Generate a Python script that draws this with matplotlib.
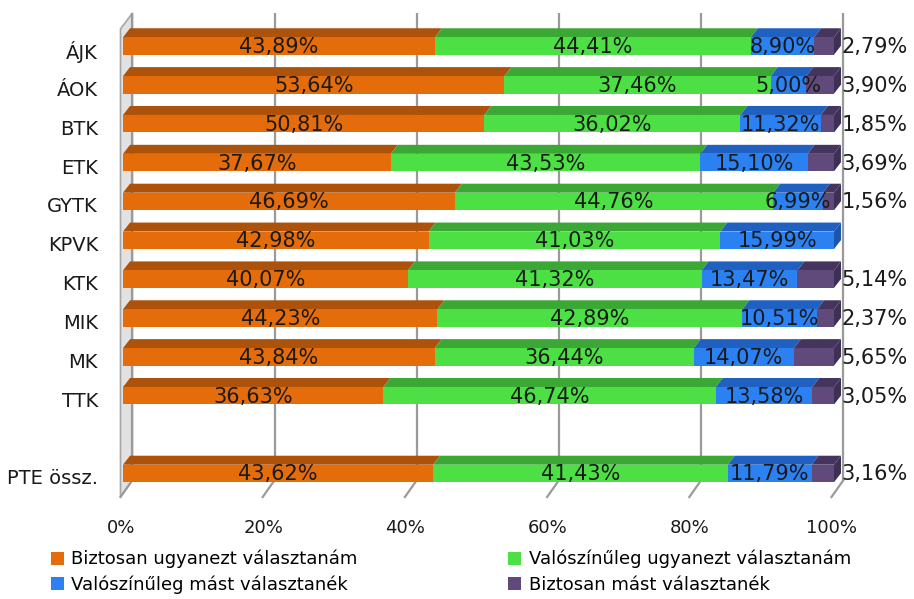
import matplotlib
matplotlib.use("Agg")
import matplotlib.pyplot as plt
from matplotlib.patches import Polygon, Patch

plt.rcParams['font.family'] = ['DejaVu Sans']

# ---------------- data ----------------
categories = ['ÁJK', 'ÁOK', 'BTK', 'ETK', 'GYTK', 'KPVK', 'KTK', 'MIK', 'MK', 'TTK', 'PTE össz.']
row_pos = [0, 1, 2, 3, 4, 5, 6, 7, 8, 9, 11]
biztosan_ugyanezt = [43.89, 53.64, 50.81, 37.67, 46.69, 42.98, 40.07, 44.23, 43.84, 36.63, 43.62]
valoszinuleg_ugyanezt = [44.41, 37.46, 36.02, 43.53, 44.76, 41.03, 41.32, 42.89, 36.44, 46.74, 41.43]
valoszinuleg_mast = [8.90, 5.00, 11.32, 15.10, 6.99, 15.99, 13.47, 10.51, 14.07, 13.58, 11.79]
biztosan_mast = [2.79, 3.90, 1.85, 3.69, 1.56, 0.0, 5.14, 2.37, 5.65, 3.05, 3.16]
series_names = ['Biztosan ugyanezt választanám', 'Valószínűleg ugyanezt választanám',
                'Valószínűleg mást választanék', 'Biztosan mást választanék']
x_ticks = [0, 20, 40, 60, 80, 100]
x_ticklabels = ['0%', '20%', '40%', '60%', '80%', '100%']

# ---------------- style ----------------
front_col = ['#E46C0A', '#4DE045', '#2B80F2', '#604A7B']
top_col = ['#AD520A', '#3BA835', '#1F60C0', '#45355E']
side_col = ['#9A4808', '#339530', '#1B55AA', '#3E3055']

W, H = 914, 599
fig = plt.figure(figsize=(W / 100, H / 100), dpi=100)
ax = fig.add_axes([0, 0, 1, 1])
ax.set_axis_off()

PX0, PXS = 123.0, 7.11      # px of 0 %, px per %
PY0, PYS = 46.0, 38.86      # px of first row centre, px per row
ax.set_xlim((0 - PX0) / PXS, (W - PX0) / PXS)
ax.set_ylim((H - PY0) / PYS, (0 - PY0) / PYS)

def dx(px):
    return px / PXS

def dy(px):
    return px / PYS

def ypx(py):
    return (py - PY0) / PYS

FH = dy(17.5)          # front face height
DX, DY = dx(7), dy(-9)  # bar depth
BX = dx(9.5)           # back wall x offset
WALL_TOP, WALL_BOT = ypx(13), ypx(480)
FLOOR_FRONT = ypx(497)
FX = dx(-2.5)

grid_c = '#9a9a9a'
# left side wall
wall = Polygon([(FX, ypx(29)), (BX, WALL_TOP), (BX, WALL_BOT), (FX, FLOOR_FRONT)],
               closed=True, facecolor='#e2e2e2', edgecolor='#a6a6a6', lw=1.2, zorder=1)
ax.add_patch(wall)
# gridlines on back wall + floor stubs
for v in x_ticks:
    ax.plot([v + BX, v + BX], [WALL_TOP, WALL_BOT], color=grid_c, lw=1.6, zorder=2,
            solid_capstyle='butt')
    ax.plot([v + BX, v + FX], [WALL_BOT, FLOOR_FRONT], color=grid_c, lw=1.6, zorder=2)

LBL = 15
# bars
series = [biztosan_ugyanezt, valoszinuleg_ugyanezt, valoszinuleg_mast, biztosan_mast]
for i, r in enumerate(row_pos):
    vals = [s[i] for s in series]
    left = 0.0
    y_top = r - FH / 2
    y_bot = r + FH / 2
    last = max(k for k, v in enumerate(vals) if v > 0)
    for k, v in enumerate(vals):
        if v <= 0:
            continue
        x0, x1 = left, left + v
        ax.add_patch(Polygon([(x0, y_top), (x1, y_top), (x1 + DX, y_top + DY), (x0 + DX, y_top + DY)],
                             closed=True, facecolor=top_col[k], lw=0, zorder=3))
        ax.add_patch(Polygon([(x0, y_top), (x1, y_top), (x1, y_bot), (x0, y_bot)],
                             closed=True, facecolor=front_col[k], lw=0, zorder=4))
        if k == last:
            ax.add_patch(Polygon([(x1, y_top), (x1 + DX, y_top + DY), (x1 + DX, y_bot + DY), (x1, y_bot)],
                                 closed=True, facecolor=side_col[k], lw=0, zorder=4))
        lab = f"{v:.2f}".replace('.', ',') + '%'
        if k == 3:
            ax.text(100 + DX + dx(0.5), r + dy(1), lab, ha='left', va='center',
                    fontsize=LBL, color='#1a1a1a', zorder=6)
        else:
            ax.text((x0 + x1) / 2, r + dy(1), lab, ha='center', va='center',
                    fontsize=LBL, color='#1a1a1a', zorder=6)
        left = x1
    # category label
    ax.text(dx(98 - PX0), r + dy(5.5), categories[i], ha='right', va='center',
            fontsize=14, color='#1a1a1a')

# x tick labels
for v, t in zip(x_ticks, x_ticklabels):
    ax.text(v + dx(-2), ypx(528), t, ha='center', va='center', fontsize=13, color='#1a1a1a')

# legend
handles = [Patch(facecolor=front_col[k], edgecolor='none') for k in range(4)]
order = [0, 2, 1, 3]
fig.legend([handles[k] for k in order], [series_names[k] for k in order],
           ncol=2, loc='upper left', bbox_to_anchor=(51 / W, 1 - 550 / H),
           frameon=False, fontsize=13, handlelength=0.72, handleheight=0.72,
           handletextpad=0.4, columnspacing=8.35, labelspacing=0.4, borderpad=0,
           borderaxespad=0)

fig.savefig('out.png', dpi=100)
